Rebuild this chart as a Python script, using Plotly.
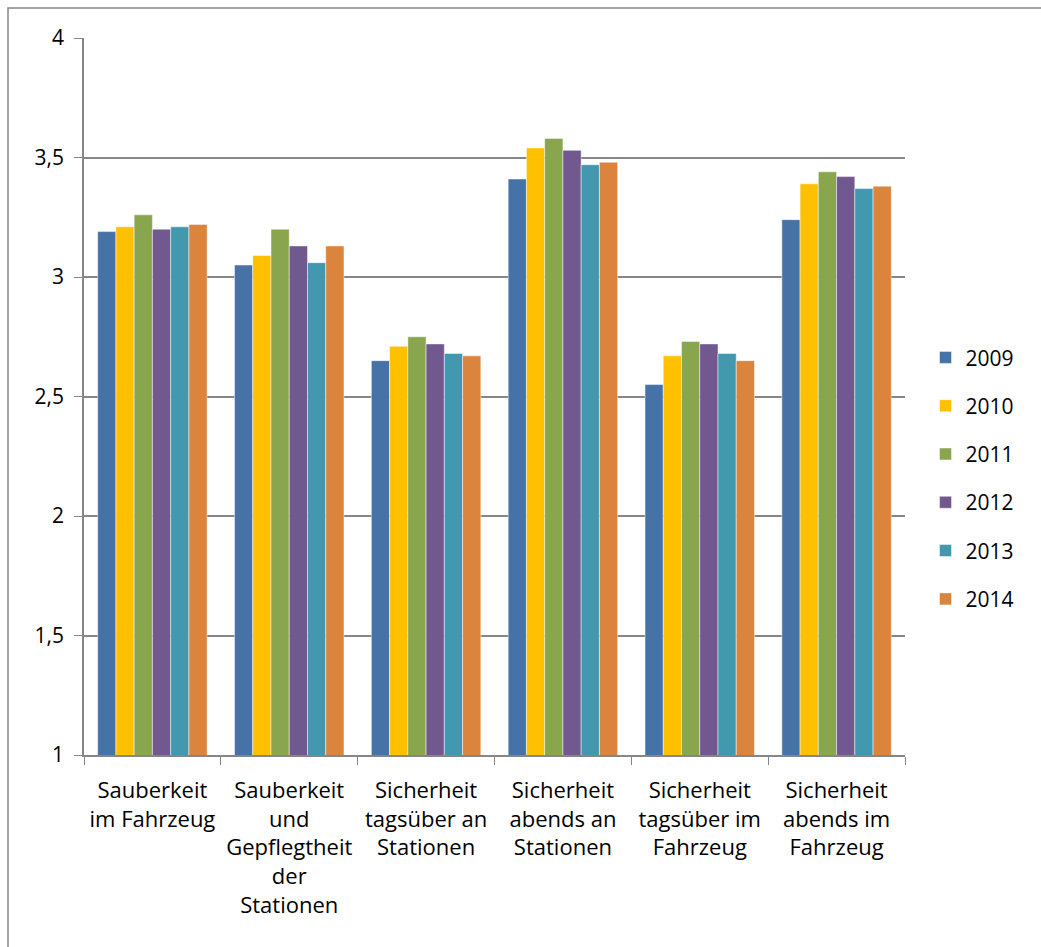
import plotly.graph_objects as go

categories = [
    "Sauberkeit<br>im Fahrzeug",
    "Sauberkeit<br>und<br>Gepflegtheit<br>der<br>Stationen",
    "Sicherheit<br>tagsüber an<br>Stationen",
    "Sicherheit<br>abends an<br>Stationen",
    "Sicherheit<br>tagsüber im<br>Fahrzeug",
    "Sicherheit<br>abends im<br>Fahrzeug",
]

years = ["2009", "2010", "2011", "2012", "2013", "2014"]

v2009 = [3.19, 3.05, 2.65, 3.41, 2.55, 3.24]
v2010 = [3.21, 3.09, 2.71, 3.54, 2.67, 3.39]
v2011 = [3.26, 3.20, 2.75, 3.58, 2.73, 3.44]
v2012 = [3.20, 3.13, 2.72, 3.53, 2.72, 3.42]
v2013 = [3.21, 3.06, 2.68, 3.47, 2.68, 3.37]
v2014 = [3.22, 3.13, 2.67, 3.48, 2.65, 3.38]

series = [v2009, v2010, v2011, v2012, v2013, v2014]
colors = ["#4572A7", "#FFC000", "#89A54E", "#71588F", "#4198AF", "#DB843D"]

FONT = "Open Sans"
W, H = 1041, 947
L, R, T, B = 84, 136, 38, 192

fig = go.Figure()
for name, vals, col in zip(years, series, colors):
    fig.add_trace(go.Bar(
        x=categories, y=vals, name=name, legendgroup=name,
        marker=dict(color=col, line=dict(color="rgba(255,255,255,0.6)", width=0.8)),
    ))

# outer frame of the chart area (only top and left edges fall inside the page)
pw, ph = W - L - R, H - T - B
fig.add_shape(
    type="rect", xref="paper", yref="paper",
    x0=(8 - L) / pw, x1=(W + 20 - L) / pw,
    y0=-(H + 20 - (H - B)) / ph, y1=((H - B) - 8) / ph,
    line=dict(color="#868686", width=1.5), fillcolor="rgba(0,0,0,0)", layer="below",
)

fig.update_layout(
    width=W, height=H,
    margin=dict(l=L, r=R, t=T, b=B, autoexpand=False),
    paper_bgcolor="white", plot_bgcolor="white",
    separators=",.",
    barmode="group", bargap=0.2, bargroupgap=0,
    font=dict(family=FONT, size=22, color="black"),
    legend=dict(
        x=1.025, xanchor="left", y=0.386, yanchor="middle",
        font=dict(family=FONT, size=21),
        tracegroupgap=18, itemwidth=30,
    ),
    yaxis=dict(
        range=[1, 4], dtick=0.5, tick0=1,
        showgrid=True, gridcolor="#868686", gridwidth=1.5,
        showline=True, linecolor="#868686", linewidth=1.5,
        ticks="outside", ticklen=8, tickcolor="#868686",
        zeroline=False, tickfont=dict(size=21),
        ticklabelstandoff=6,
    ),
    xaxis=dict(
        showline=True, linecolor="#868686", linewidth=1.5,
        ticks="outside", ticklen=8, tickcolor="#868686",
        tickson="boundaries", tickangle=0,
        tickfont=dict(size=22),
        ticklabelstandoff=15,
    ),
)

fig.write_html("out.html")
